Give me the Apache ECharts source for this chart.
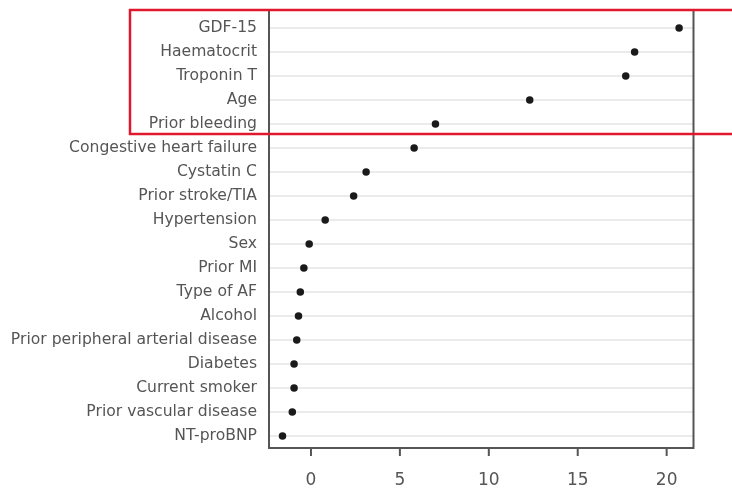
<!DOCTYPE html>
<html>
<head>
<meta charset="utf-8">
<script src="https://cdn.jsdelivr.net/npm/echarts@6/dist/echarts.min.js"></script>
<style>
html,body{margin:0;padding:0;background:#fff;}
#chart{width:732px;height:489px;}
</style>
</head>
<body>
<div id="chart"></div>
<script>
const categories = ['GDF-15','Haematocrit','Troponin T','Age','Prior bleeding','Congestive heart failure','Cystatin C','Prior stroke/TIA','Hypertension','Sex','Prior MI','Type of AF','Alcohol','Prior peripheral arterial disease','Diabetes','Current smoker','Prior vascular disease','NT-proBNP'];
const values = [20.7, 18.2, 17.7, 12.3, 7.0, 5.8, 3.1, 2.4, 0.8, -0.1, -0.4, -0.6, -0.7, -0.8, -0.95, -0.95, -1.05, -1.6];
const xTicks = [0, 5, 10, 15, 20];

const FONT = 'DejaVu Sans';
const W = 732, H = 489;
const gridL = 269, gridR = 38.5, gridT = 16, gridB = 41;
const xMin = -2.36, xMax = 21.51;
// tick-axis grid aligned to the main axis scale
const pxPerUnit = (W - gridL - gridR) / (xMax - xMin);
const tMin = xTicks[0], tMax = xTicks[xTicks.length - 1];
const tickL = gridL + (tMin - xMin) * pxPerUnit;
const tickR = W - (gridL + (tMax - xMin) * pxPerUnit);

const chart = echarts.init(document.getElementById('chart'));
chart.setOption({
  animation: false,
  backgroundColor: '#fff',
  grid: [
    {left: gridL, right: gridR, top: gridT, bottom: gridB, containLabel: false},
    {left: tickL, right: tickR, top: H - gridB - 10, bottom: gridB, containLabel: false}
  ],
  xAxis: [{
    type: 'value', min: xMin, max: xMax, gridIndex: 0,
    axisLine: {show: false},
    splitLine: {show: false},
    axisTick: {show: false},
    axisLabel: {show: false}
  }, {
    type: 'value', min: tMin, max: tMax, interval: 5, gridIndex: 1,
    axisLine: {show: false},
    splitLine: {show: false},
    axisTick: {show: false},
    axisLabel: {margin: 25, color: '#555', fontSize: 17, fontFamily: FONT}
  }],
  yAxis: [{
    type: 'category', data: categories, inverse: true, gridIndex: 0,
    axisLine: {show: false}, axisTick: {show: false}, splitLine: {show: false},
    axisLabel: {margin: 12, color: '#555', fontSize: 15.6, fontFamily: FONT}
  }, {
    type: 'value', gridIndex: 1, min: 0, max: 1, show: false
  }],
  series: [{
    type: 'scatter',
    data: [],
    z: 1,
    markLine: {
      silent: true, symbol: 'none', label: {show: false},
      lineStyle: {color: '#ebebeb', width: 2, type: 'solid'},
      data: categories.map(c => ({yAxis: c}))
    }
  }, {
    type: 'scatter',
    data: categories.map((c, i) => [values[i], c]),
    symbolSize: 7.5,
    itemStyle: {color: '#1a1a1a', opacity: 1},
    z: 5
  }, {
    type: 'custom',
    xAxisIndex: 1, yAxisIndex: 1,
    clip: false, silent: true,
    data: xTicks.map(v => [v, 0]),
    renderItem: function (params, api) {
      const p = api.coord([api.value(0), 0]);
      return {
        type: 'line',
        shape: {x1: p[0], y1: p[1], x2: p[0], y2: p[1] + 9},
        style: {stroke: '#555', lineWidth: 2}
      };
    },
    z: 6
  }],
  graphic: [
    {type: 'rect', shape: {x: gridL, y: 10, width: W - gridR - gridL, height: H - gridB - 10}, style: {fill: 'none', stroke: '#555', lineWidth: 2}, z: 10},
    {type: 'rect', shape: {x: 130, y: 10, width: 620, height: 124}, style: {fill: 'none', stroke: '#e0182d', lineWidth: 2.5}, z: 11}
  ]
});
</script>
</body>
</html>
